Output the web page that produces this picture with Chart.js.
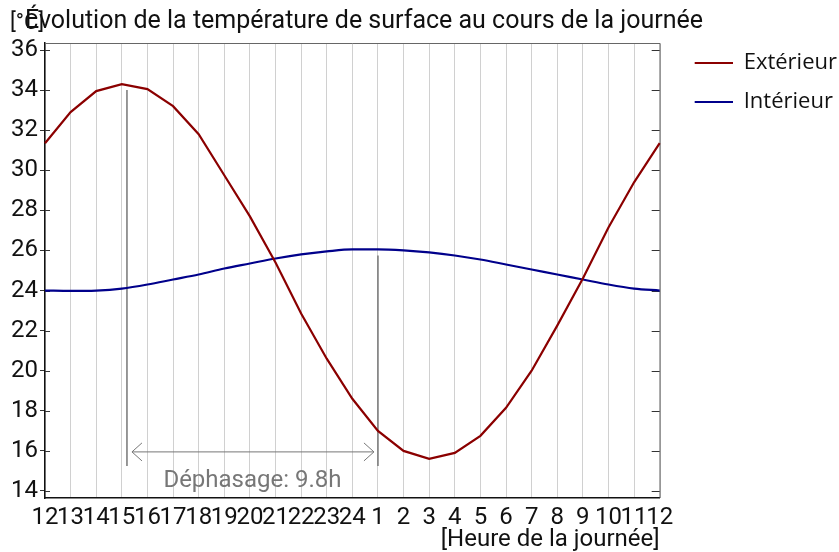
<!DOCTYPE html>
<html>
<head>
<meta charset="utf-8">
<script src="https://cdn.jsdelivr.net/npm/chart.js@4"></script>
<style>
  html, body { margin: 0; padding: 0; background: #fff; }
  #wrap { width: 839px; height: 552px; }
</style>
</head>
<body>
<div id="wrap"><canvas id="temp-chart"></canvas></div>
<script>
// heures de la journée (axe x)
const heures = ['12', '13', '14', '15', '16', '17', '18', '19', '20', '21', '22', '23', '24',
  '1', '2', '3', '4', '5', '6', '7', '8', '9', '10', '11', '12'];

// températures de surface [°C]
const exterieur = [31.35, 32.9, 33.95, 34.3, 34.05, 33.2, 31.8, 29.75, 27.7, 25.4, 22.85, 20.6, 18.6,
  17.0, 16.0, 15.6, 15.9, 16.75, 18.15, 20.0, 22.25, 24.6, 27.15, 29.4, 31.35];
const interieur = [24.0, 23.98, 24.0, 24.1, 24.3, 24.55, 24.8, 25.1, 25.35, 25.6, 25.8, 25.95, 26.05,
  26.05, 26.0, 25.9, 25.75, 25.55, 25.3, 25.05, 24.8, 24.55, 24.3, 24.1, 24.0];

// graduations de l'axe y
const yTicks = [14, 16, 18, 20, 22, 24, 26, 28, 30, 32, 34, 36];

// déphasage entre le max extérieur et le max intérieur
const picExterieur = 3.2;   // index sur l'axe x
const picInterieur = 13.0;
const dephasage = 9.8;

const FONT = 'Roboto';
const ROUGE = '#8b0000';
const BLEU = '#00008b';

// petit trait de légende, décalé à droite pour laisser un espace après le graphique
function traitLegende(couleur) {
  const c = document.createElement('canvas');
  c.width = 56;
  c.height = 4;
  const g = c.getContext('2d');
  g.fillStyle = couleur;
  g.fillRect(18, 1, 38, 2);
  return c;
}

// cadre gris, petites graduations et flèche du déphasage
const annotations = {
  id: 'annotations',
  afterLayout(chart) {
    // le titre commence un peu à droite du bord
    chart.titleBlock.left = 25;
  },
  beforeDatasetsDraw(chart) {
    const { ctx, chartArea: a, scales: { x, y } } = chart;
    ctx.save();
    ctx.strokeStyle = '#666';
    ctx.lineWidth = 1;
    ctx.beginPath();
    ctx.moveTo(a.left, a.top + 0.5);
    ctx.lineTo(a.right + 0.5, a.top + 0.5);
    ctx.lineTo(a.right + 0.5, a.bottom);
    ctx.stroke();
    // graduations intérieures
    ctx.strokeStyle = '#333';
    y.ticks.forEach(t => {
      const py = Math.round(y.getPixelForValue(t.value)) + 0.5;
      ctx.beginPath();
      ctx.moveTo(a.left, py); ctx.lineTo(a.left + 5, py);
      ctx.moveTo(a.right - 8, py); ctx.lineTo(a.right, py);
      ctx.stroke();
    });

    // lignes verticales aux maxima
    const x1 = x.getPixelForValue(picExterieur);
    const x2 = x.getPixelForValue(picInterieur);
    ctx.strokeStyle = '#777';
    ctx.lineWidth = 1.5;
    ctx.beginPath();
    ctx.moveTo(x1, y.getPixelForValue(34.0));
    ctx.lineTo(x1, y.getPixelForValue(15.25));
    ctx.moveTo(x2, y.getPixelForValue(25.75));
    ctx.lineTo(x2, y.getPixelForValue(15.25));
    ctx.stroke();

    // flèche double
    const ay = y.getPixelForValue(15.95);
    const l = x1 + 5, r = x2 - 4;
    ctx.lineWidth = 1;
    ctx.beginPath();
    ctx.moveTo(l, ay); ctx.lineTo(r, ay);
    ctx.moveTo(l + 10, ay - 9); ctx.lineTo(l, ay); ctx.lineTo(l + 10, ay + 9);
    ctx.moveTo(r - 10, ay - 9); ctx.lineTo(r, ay); ctx.lineTo(r - 10, ay + 9);
    ctx.stroke();

    ctx.fillStyle = '#777';
    ctx.font = '24px ' + FONT;
    ctx.textAlign = 'center';
    ctx.textBaseline = 'middle';
    ctx.fillText('Déphasage: ' + dephasage + 'h', (x1 + x2) / 2, y.getPixelForValue(14.5));
    ctx.restore();
  },
  afterDraw(chart) {
    const { ctx } = chart;
    ctx.save();
    ctx.fillStyle = '#111';
    ctx.font = '22px ' + FONT;
    ctx.textBaseline = 'middle';
    ctx.fillText('[°C]', 10, 23);
    ctx.restore();
  }
};

const ctx = document.getElementById('temp-chart').getContext('2d');
const chart = new Chart(ctx, {
  type: 'line',
  data: {
    labels: heures,
    datasets: [{
      label: 'Extérieur',
      data: exterieur,
      borderColor: ROUGE,
      backgroundColor: ROUGE,
      borderWidth: 2.2,
      pointRadius: 0,
      pointStyle: traitLegende(ROUGE),
      tension: 0
    }, {
      label: 'Intérieur',
      data: interieur,
      borderColor: BLEU,
      backgroundColor: BLEU,
      borderWidth: 2.2,
      pointRadius: 0,
      pointStyle: traitLegende(BLEU),
      cubicInterpolationMode: 'monotone'
    }]
  },
  options: {
    responsive: true,
    maintainAspectRatio: false,
    animation: false,
    layout: { padding: { left: 0, right: -8, top: 0, bottom: 0 } },
    plugins: {
      title: {
        display: true,
        text: 'Évolution de la température de surface au cours de la journée',
        align: 'start',
        color: '#111',
        font: { family: FONT, size: 25, weight: 'normal' },
        padding: { top: 7, bottom: 6 }
      },
      legend: {
        position: 'right',
        align: 'start',
        title: {
          display: true,
          text: ' ',
          font: { size: 10 },
          padding: { top: 23, bottom: 0 }
        },
        labels: {
          usePointStyle: true,
          pointStyleWidth: 56,
          color: '#111',
          font: { family: 'Open Sans', size: 22 },
          padding: 17
        }
      },
      tooltip: { enabled: false }
    },
    scales: {
      x: {
        afterFit(scale) { scale.height = 54; },
        grid: { color: '#d0d0d0', drawTicks: false },
        border: { color: '#111', width: 1.5 },
        ticks: {
          color: '#111',
          font: { family: FONT, size: 24 },
          maxRotation: 0,
          autoSkip: false,
          padding: 6
        },
        title: {
          display: true,
          text: '[Heure de la journée]',
          align: 'end',
          color: '#111',
          font: { family: FONT, size: 24, lineHeight: 1 },
          padding: 0
        }
      },
      y: {
        min: 13.65,
        max: 36.35,
        afterBuildTicks(scale) {
          scale.ticks = yTicks.map(v => ({ value: v }));
        },
        afterFit(scale) { scale.width = 45; },
        grid: { drawOnChartArea: false, tickLength: 5, color: '#333' },
        border: { color: '#111', width: 1.5 },
        ticks: {
          color: '#111',
          font: { family: FONT, size: 24 },
          padding: 2
        }
      }
    }
  },
  plugins: [annotations]
});
</script>
</body>
</html>
